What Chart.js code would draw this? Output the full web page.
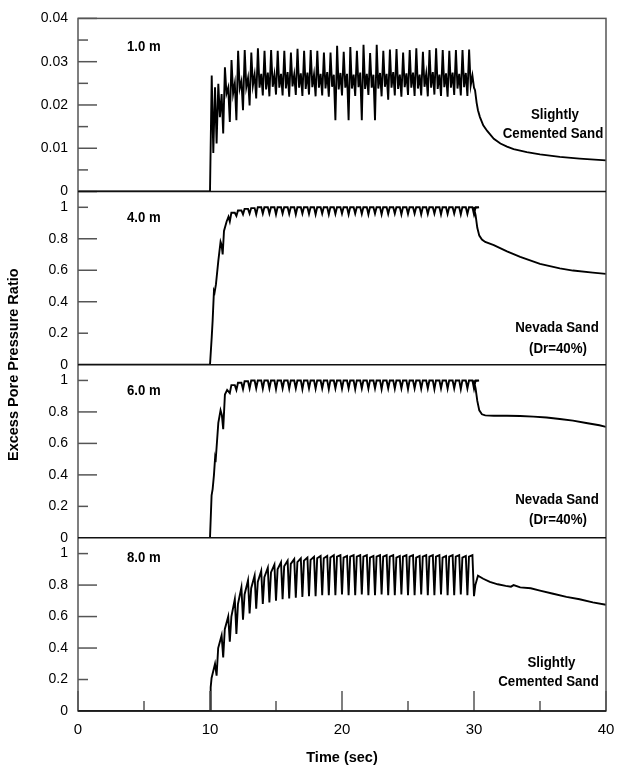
<!DOCTYPE html>
<html><head><meta charset="utf-8">
<script src="https://cdn.jsdelivr.net/npm/chart.js@4.4.1/dist/chart.umd.min.js"></script>
<style>html,body{margin:0;padding:0;background:#fff;}canvas{display:block;}</style>
</head><body>
<canvas id="c" width="630" height="773"></canvas>
<script>
// ---------------- data ----------------
const xTickVals = [0, 10, 20, 30, 40];
const xTickLabels = ['0', '10', '20', '30', '40'];
const xMinorVals = [5, 15, 25, 35];
const yTopTickVals = [0, 0.01, 0.02, 0.03, 0.04];
const yTopTickLabels = ['0', '0.01', '0.02', '0.03', '0.04'];
const yTopMinorVals = [0.005, 0.015, 0.025, 0.035];
const yLowTickVals = [0, 0.2, 0.4, 0.6, 0.8, 1];
const yLowTickLabels = ['0', '0.2', '0.4', '0.6', '0.8', '1'];
const depthLabels = ['1.0 m', '4.0 m', '6.0 m', '8.0 m'];
const soilLabels = [['Slightly', 'Cemented Sand'], ['Nevada Sand', '(Dr=40%)'], ['Nevada Sand', '(Dr=40%)'], ['Slightly', 'Cemented Sand']];
const loadPeriod = 0.5; // 2 Hz shaking, 10 s to 30 s

// Panel 1 (1.0 m) : onset, 40 cycles (peak, drop, mid-peak, trough), post-shaking
const on1T = [0, 10.0];
const on1V = [0, 0];
const cyc1Start = 10.13;
const P1 = [0.0268,0.0249,0.0287,0.0304,0.0325,0.0327,0.0321,0.0331,0.0325,0.0327,
            0.0325,0.0325,0.0321,0.0330,0.0325,0.0327,0.0325,0.0321,0.0321,0.0337,
            0.0323,0.0334,0.0325,0.0339,0.0320,0.0339,0.0325,0.0328,0.0329,0.0321,
            0.0327,0.0331,0.0323,0.0327,0.0331,0.0327,0.0325,0.0327,0.0327,0.0328];
const D1 = [0.0089,0.0172,0.0226,0.0226,0.0238,0.0241,0.0245,0.0240,0.0236,0.0242,
            0.0240,0.0238,0.0243,0.0240,0.0237,0.0241,0.0240,0.0238,0.0242,0.0236,
            0.0240,0.0238,0.0241,0.0237,0.0240,0.0238,0.0242,0.0240,0.0237,0.0241,
            0.0240,0.0238,0.0242,0.0240,0.0237,0.0241,0.0240,0.0238,0.0241,0.0245];
const M1 = [0.0241,0.0225,0.0240,0.0250,0.0255,0.0262,0.0270,0.0272,0.0275,0.0270,
            0.0272,0.0276,0.0270,0.0273,0.0275,0.0270,0.0272,0.0276,0.0270,0.0274,
            0.0272,0.0270,0.0275,0.0272,0.0270,0.0274,0.0272,0.0276,0.0270,0.0273,
            0.0275,0.0270,0.0272,0.0276,0.0270,0.0273,0.0275,0.0272,0.0274,0.0268];
const T1 = [0.0111,0.0134,0.0161,0.0165,0.0188,0.0199,0.0215,0.0222,0.0220,0.0224,
            0.0222,0.0219,0.0223,0.0221,0.0224,0.0220,0.0222,0.0219,0.0165,0.0222,
            0.0165,0.0221,0.0165,0.0223,0.0165,0.0220,0.0212,0.0222,0.0219,0.0223,
            0.0221,0.0222,0.0220,0.0224,0.0221,0.0219,0.0223,0.0222,0.0221,0.0240];
const post1T = [30.08,30.2,30.3,30.45,30.7,31.0,31.5,32.0,32.5,33.0,34.0,35.0,36.5,38.0,40.0];
const post1V = [0.0234,0.0205,0.0188,0.0172,0.0153,0.0140,0.0122,0.0111,0.0104,0.0098,0.0091,0.0086,0.0080,0.0076,0.0072];

// Panel 2 (4.0 m) : onset, 38 arches (cusp, top), post-shaking
const on2T = [0, 10.0, 10.13, 10.2, 10.3, 10.35, 10.45, 10.63, 10.8, 10.88, 10.96, 11.06, 11.26, 11.4];
const on2V = [0, 0, 0.175, 0.28, 0.47, 0.46, 0.51, 0.66, 0.78, 0.76, 0.70, 0.85, 0.91, 0.94];
const cyc2Start = 11.5;
const C2 = [0.91,0.945,0.955,0.96,0.955,0.96,0.96,0.955,0.96,0.958,
            0.955,0.96,0.958,0.955,0.96,0.955,0.958,0.96,0.955,0.96,
            0.958,0.955,0.96,0.955,0.958,0.96,0.955,0.958,0.96,0.955,
            0.958,0.96,0.955,0.958,0.96,0.955,0.958,0.955];
const P2 = [0.965,0.98,0.99,0.995,1.0,1.0,1.0,1.0,1.0,1.0,
            1.0,1.0,1.0,1.0,1.0,1.0,1.0,1.0,1.0,1.0,
            1.0,1.0,1.0,1.0,1.0,1.0,1.0,1.0,1.0,1.0,
            1.0,1.0,1.0,1.0,1.0,1.0,1.0,1.0];
const post2T = [30.0,30.12,30.25,30.4,30.6,30.85,31.5,32.5,33.5,35.0,36.5,37.5,39.0,40.0];
const post2V = [0.995,0.95,0.87,0.82,0.795,0.78,0.76,0.72,0.685,0.64,0.612,0.598,0.585,0.577];

// Panel 3 (6.0 m)
const on3T = [0, 10.0, 10.12, 10.2, 10.3, 10.38, 10.42, 10.63, 10.8, 10.9, 11.0, 11.13, 11.3];
const on3V = [0, 0, 0.27, 0.31, 0.40, 0.50, 0.48, 0.73, 0.81, 0.78, 0.69, 0.91, 0.94];
const cyc3Start = 11.5;
const C3 = [0.92,0.94,0.945,0.95,0.95,0.948,0.95,0.945,0.95,0.948,
            0.95,0.945,0.95,0.948,0.95,0.945,0.95,0.948,0.95,0.945,
            0.95,0.948,0.95,0.945,0.95,0.948,0.95,0.945,0.95,0.948,
            0.95,0.945,0.95,0.948,0.95,0.945,0.95,0.948];
const P3 = [0.97,0.985,0.995,1.0,1.0,1.0,1.0,1.0,1.0,1.0,
            1.0,1.0,1.0,1.0,1.0,1.0,1.0,1.0,1.0,1.0,
            1.0,1.0,1.0,1.0,1.0,1.0,1.0,1.0,1.0,1.0,
            1.0,1.0,1.0,1.0,1.0,1.0,1.0,1.0];
const post3T = [30.0,30.12,30.25,30.4,30.6,30.85,31.5,32.5,33.5,34.5,35.5,36.5,37.5,38.5,39.5,40.0];
const post3V = [0.995,0.95,0.87,0.81,0.785,0.778,0.776,0.776,0.774,0.77,0.765,0.755,0.745,0.73,0.715,0.705];

// Panel 4 (8.0 m) : onset, 40 cycles (shoulder, peak, trough), post-shaking
const on4T = [0, 10.0, 10.05];
const on4V = [0, 0, 0.15];
const cyc4Start = 10.0;
const S4 = [0.21,0.40,0.52,0.60,0.68,0.74,0.78,0.82,0.85,0.88,
            0.90,0.92,0.935,0.945,0.955,0.96,0.97,0.97,0.975,0.98,
            0.975,0.98,0.98,0.98,0.975,0.98,0.98,0.98,0.975,0.98,
            0.98,0.975,0.98,0.98,0.98,0.975,0.98,0.98,0.975,0.98];
const P4 = [0.30,0.48,0.60,0.71,0.785,0.83,0.86,0.89,0.91,0.93,
            0.945,0.955,0.965,0.97,0.975,0.98,0.985,0.985,0.99,0.99,
            0.985,0.99,0.99,0.99,0.985,0.99,0.99,0.99,0.985,0.99,
            0.99,0.985,0.99,0.99,0.99,0.985,0.99,0.99,0.985,0.99];
const T4 = [0.225,0.34,0.44,0.49,0.58,0.62,0.65,0.68,0.69,0.70,
            0.71,0.715,0.72,0.725,0.73,0.73,0.735,0.735,0.735,0.74,
            0.735,0.735,0.74,0.735,0.735,0.74,0.735,0.735,0.74,0.735,
            0.735,0.74,0.735,0.735,0.74,0.735,0.735,0.74,0.735,0.73];
const post4T = [30.1,30.3,30.7,31.2,31.8,32.4,32.8,33.0,33.5,34.3,35.0,36.0,37.0,38.0,39.0,40.0];
const post4V = [0.80,0.86,0.84,0.82,0.805,0.795,0.79,0.80,0.785,0.78,0.765,0.745,0.725,0.71,0.69,0.675];

// ---------------- build series ----------------
const pts = (ts, vs) => ts.map((t, i) => ({x: t, y: vs[i]}));

function series1() {
  const d = pts(on1T, on1V);
  P1.forEach((p, k) => {
    const t = cyc1Start + k * loadPeriod;
    d.push({x: t, y: p}, {x: t + 0.12, y: D1[k]}, {x: t + 0.25, y: M1[k]}, {x: t + 0.37, y: T1[k]});
  });
  return d.concat(pts(post1T, post1V));
}
function seriesArch(onT, onV, start, C, P, postT, postV) {
  const d = pts(onT, onV);
  C.forEach((c, k) => {
    const t = start + k * loadPeriod;
    d.push({x: t, y: c}, {x: t + 0.12, y: P[k]}, {x: t + 0.38, y: P[k]});
  });
  return d.concat(pts(postT, postV));
}
function series4() {
  const d = pts(on4T, on4V);
  P4.forEach((p, k) => {
    const t = cyc4Start + k * loadPeriod;
    d.push({x: t + 0.12, y: S4[k]}, {x: t + 0.38, y: p}, {x: t + 0.5, y: T4[k]});
  });
  return d.concat(pts(post4T, post4V));
}

// ---------------- chart ----------------
const FONT = "'Liberation Sans', Arial, Helvetica, sans-serif";

function yScale(max, vals, labels) {
  return {
    type: 'linear', position: 'left', stack: 'panels', stackWeight: 1, min: 0, max: max,
    afterBuildTicks: s => { s.ticks = vals.map(v => ({value: v})); },
    afterFit: s => { s.width = 78; },
    ticks: {autoSkip: false, padding: 10, color: '#000', font: {family: FONT, size: 14},
            callback: (v, i) => labels[i]},
    grid: {display: false, drawTicks: false},
    border: {display: false}
  };
}

const lowTickLen = [0, 10, 19, 19, 19, 10];

function condensedText(ctx, txt, x, y, sx) {
  ctx.save();
  ctx.translate(x, y);
  ctx.scale(sx, 1);
  ctx.fillText(txt, 0, 0);
  ctx.restore();
}

const decor = {
  id: 'decor',
  afterDatasetsDraw(chart) {
    const {ctx, chartArea: a, scales} = chart;
    const ys = [scales.y1, scales.y2, scales.y3, scales.y4];
    const line = (x1, y1, x2, y2) => { ctx.beginPath(); ctx.moveTo(x1, y1); ctx.lineTo(x2, y2); ctx.stroke(); };
    ctx.save();
    // inward y ticks
    ctx.strokeStyle = '#555'; ctx.lineWidth = 1.5;
    yTopTickVals.forEach(v => { const y = scales.y1.getPixelForValue(v); line(a.left, y, a.left + 19, y); });
    yTopMinorVals.forEach(v => { const y = scales.y1.getPixelForValue(v); line(a.left, y, a.left + 10, y); });
    [scales.y2, scales.y3, scales.y4].forEach(s => {
      yLowTickVals.forEach((v, i) => { const y = s.getPixelForValue(v); line(a.left, y, a.left + lowTickLen[i], y); });
    });
    // inward x ticks on the bottom panel
    const yb = scales.y4.getPixelForValue(0);
    xTickVals.forEach(v => { const x = scales.x.getPixelForValue(v); line(x, yb, x, yb - 20); });
    xMinorVals.forEach(v => { const x = scales.x.getPixelForValue(v); line(x, yb, x, yb - 10); });
    // frame
    ctx.strokeStyle = '#555'; ctx.lineWidth = 1.5;
    ctx.strokeRect(a.left, a.top, a.right - a.left, a.bottom - a.top);
    ctx.strokeStyle = '#111';
    ys.forEach(s => { const y = s.getPixelForValue(0); line(a.left, y, a.right, y); });
    // texts
    ctx.fillStyle = '#000';
    ctx.font = 'bold 14px ' + FONT;
    ctx.textBaseline = 'middle';
    const depthDy = [29, 27, 26, 20];
    const soilY = [[76, 57.6], [37, 16], [38, 18], [48.3, 29.3]];
    const soilX = [[555, 553], [557, 558], [557, 558], [551.5, 548.5]];
    ys.forEach((s, i) => {
      ctx.textAlign = 'left';
      condensedText(ctx, depthLabels[i], 127, s.top + depthDy[i], 0.94);
      ctx.textAlign = 'center';
      soilLabels[i].forEach((txt, j) => condensedText(ctx, txt, soilX[i][j], s.bottom - soilY[i][j], 0.95));
    });
    // y title
    ctx.save();
    ctx.translate(14, (a.top + a.bottom) / 2);
    ctx.rotate(-Math.PI / 2);
    ctx.textAlign = 'center'; ctx.textBaseline = 'middle';
    ctx.font = 'bold 14.5px ' + FONT;
    ctx.fillText('Excess Pore Pressure Ratio', 0, 0);
    ctx.restore();
    ctx.restore();
  }
};

const ds = (data, axis) => ({data, yAxisID: axis, borderColor: '#000', borderWidth: 1.9, pointRadius: 0, tension: 0, fill: false});

new Chart(document.getElementById('c'), {
  type: 'line',
  data: {datasets: [
    ds(series1(), 'y1'),
    ds(seriesArch(on2T, on2V, cyc2Start, C2, P2, post2T, post2V), 'y2'),
    ds(seriesArch(on3T, on3V, cyc3Start, C3, P3, post3T, post3V), 'y3'),
    ds(series4(), 'y4')
  ]},
  options: {
    responsive: false, animation: false, parsing: false, normalized: true,
    layout: {padding: {top: 10.5, right: 24, bottom: 0, left: 0}},
    plugins: {legend: {display: false}, tooltip: {enabled: false}},
    scales: {
      x: {
        type: 'linear', position: 'bottom', min: 0, max: 40,
        afterBuildTicks: s => { s.ticks = xTickVals.map(v => ({value: v})); },
        afterFit: s => { s.height = 62; },
        ticks: {autoSkip: false, maxRotation: 0, padding: 10, color: '#000', font: {family: FONT, size: 15},
                callback: (v, i) => xTickLabels[i]},
        grid: {display: false, drawTicks: false},
        border: {display: false},
        title: {display: true, text: 'Time (sec)', color: '#000', font: {family: FONT, size: 14.5, weight: 'bold'},
                padding: {top: 0, bottom: 6}}
      },
      // stacked panels are placed bottom-up, so list the deepest panel first
      y4: yScale(1.1, yLowTickVals, yLowTickLabels),
      y3: yScale(1.1, yLowTickVals, yLowTickLabels),
      y2: yScale(1.1, yLowTickVals, yLowTickLabels),
      y1: yScale(0.04, yTopTickVals, yTopTickLabels)
    }
  },
  plugins: [decor]
});
</script>
</body></html>
